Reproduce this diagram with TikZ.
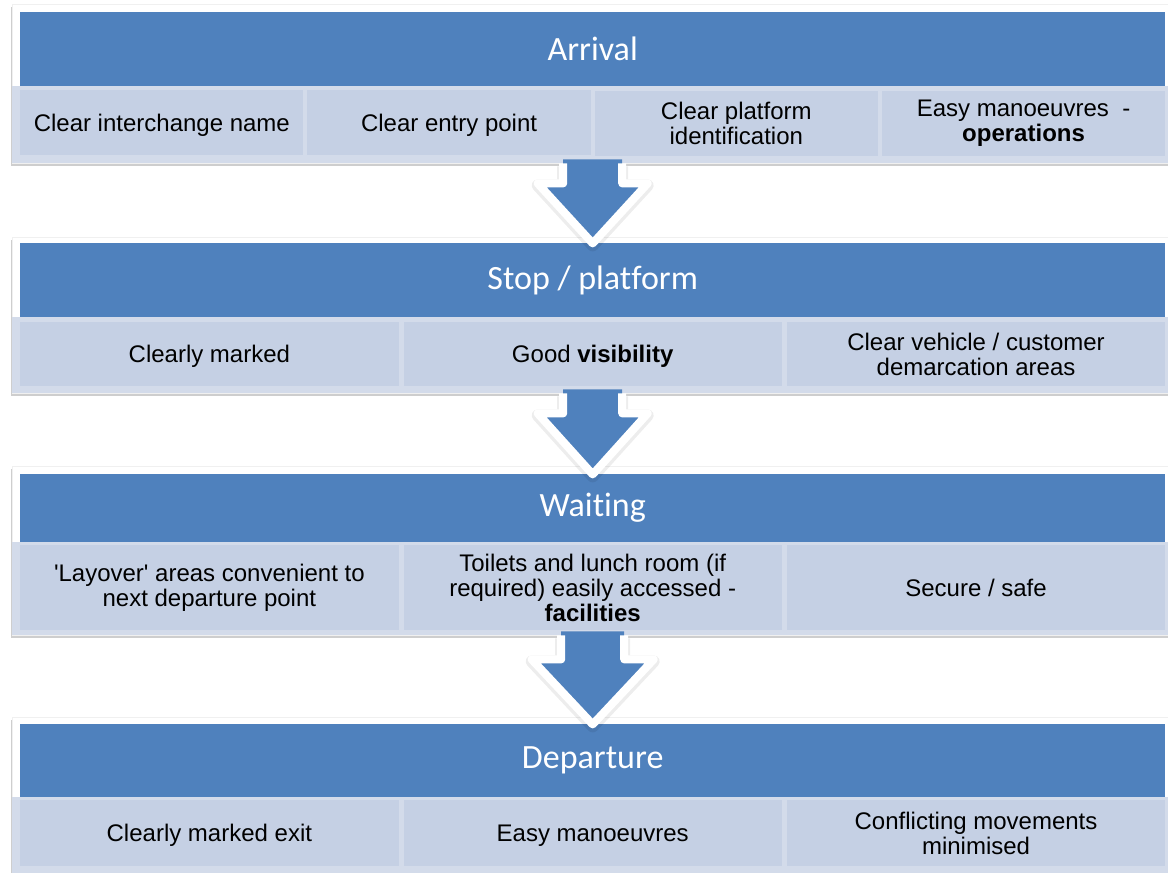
\documentclass[tikz,border=0pt]{standalone}
\usepackage{fontspec}
\setmainfont{Liberation Sans}
\newfontfamily\cellfont{Liberation Sans}
\newfontfamily\headfont{Carlito}[Ligatures=NoCommon]
\usetikzlibrary{shadows}
\definecolor{hblue}{HTML}{4F81BD}
\definecolor{cellc}{HTML}{C5D0E4}
\definecolor{bandc}{HTML}{D3DBEA}
\newcommand{\flowarrow}[5]{%
  % #1 origin (top centre), #2 half shaft, #3 shoulder depth, #4 half head, #5 tip depth
  \begin{scope}[shift={(#1)}]
    \draw[black, opacity=0.07, line width=12pt, line join=round]
      (#2,3) -- (#2,#3+2) -- (#4,#3+2) -- (0,#5+2) -- (-#4,#3+2) -- (-#2,#3+2) -- (-#2,3);
    \fill[hblue] (-#2,-4) -- (#2,-4) -- (#2,#3) -- (#4,#3) -- (0,#5) -- (-#4,#3) -- (-#2,#3) -- cycle;
    \draw[white, line width=8pt, line join=round]
      (#2,0) -- (#2,#3) -- (#4,#3) -- (0,#5) -- (-#4,#3) -- (-#2,#3) -- (-#2,0);
  \end{scope}}
\begin{document}
\begin{tikzpicture}[x=1pt,y=-1pt,
  container/.style={fill=white, draw=black!6, line width=0.6pt, inner sep=0pt, anchor=north west,
    drop shadow={shadow xshift=-1.5pt, shadow yshift=-3pt, opacity=0.35, fill=black!55}},
  band/.style={fill=bandc, draw=none, inner sep=0pt, anchor=north west},
  header/.style={fill=hblue, inner sep=0pt, anchor=north west, text=white,
    font=\headfont\fontsize{34}{40}\selectfont},
  cell/.style={fill=cellc, inner sep=0pt, anchor=north west, align=center, text=black,
    font=\cellfont\fontsize{24}{25}\selectfont},
  oneline/.style={text depth=0pt},
  cfour/.style={cell, minimum width=283.25pt},
  cthree/.style={cell, minimum width=378.33pt},
]
\useasboundingbox (0,0) rectangle (1168,873);
\clip (0,0) rectangle (1168,873);
\fill[white] (0,0) rectangle (1168,873);

% Group 1: Arrival
\node[container, minimum width=1170pt, minimum height=159pt] (g1) at (12,4) {};
\node[band, minimum width=1170pt, minimum height=77pt] (b1) at (12,86) {};
\node[header, minimum width=1145pt, minimum height=74pt] (h1) at (20,12) {Arrival};
\node[cfour, oneline, minimum height=65pt] (a1) at (20,90) {Clear interchange name};
\node[cfour, oneline, minimum height=65pt] (a2) at (307.25,90) {Clear entry point};
\node[cfour, minimum height=65pt] (a3) at (594.5,91) {Clear platform\\identification};
\node[cfour, minimum height=65pt] (a4) at (881.75,91) {Easy manoeuvres\ \ -\\\textbf{operations}};

% Group 2: Stop / platform
\node[container, minimum width=1170pt, minimum height=156pt] (g2) at (12,237) {};
\node[band, minimum width=1170pt, minimum height=76pt] (b2) at (12,317) {};
\node[header, minimum width=1145pt, minimum height=74pt] (h2) at (20,243) {Stop / platform};
\node[cthree, oneline, minimum height=64pt] (s1) at (20,322) {Clearly marked};
\node[cthree, oneline, minimum height=64pt] (s2) at (403.33,322) {Good \textbf{visibility}};
\node[cthree, minimum height=64pt] (s3) at (786.67,322) {Clear vehicle / customer\\demarcation areas};

% Group 3: Waiting
\node[container, minimum width=1170pt, minimum height=169pt] (g3) at (12,466) {};
\node[band, minimum width=1170pt, minimum height=93pt] (b3) at (12,542) {};
\node[header, minimum width=1145pt, minimum height=68pt] (h3) at (20,474) {Waiting};
\node[cthree, minimum height=85pt] (w1) at (20,545) {'Layover' areas convenient to\\next departure point};
\node[cthree, minimum height=85pt] (w2) at (403.33,545) {Toilets and lunch room (if\\required) easily accessed -\\\textbf{facilities}};
\node[cthree, oneline, minimum height=85pt] (w3) at (786.67,545) {Secure / safe};

% Group 4: Departure
\node[container, minimum width=1170pt, minimum height=160pt] (g4) at (12,717) {};
\node[band, minimum width=1170pt, minimum height=80pt] (b4) at (12,797) {};
\node[header, minimum width=1145pt, minimum height=73pt] (h4) at (20,724) {Departure};
\node[cthree, oneline, minimum height=66pt] (d1) at (20,800) {Clearly marked exit};
\node[cthree, oneline, minimum height=66pt] (d2) at (403.33,800) {Easy manoeuvres};
\node[cthree, minimum height=66pt] (d3) at (786.67,800) {Conflicting movements\\minimised};

% Block arrows between stages
\coordinate (o1) at (h1.center |- b1.south);
\coordinate (o2) at (h2.center |- b2.south);
\coordinate (o3) at (h3.center |- b3.south);
\flowarrow{o1}{29.5}{20}{55}{80}
\flowarrow{o2}{29.5}{20}{55}{81}
\flowarrow{o3}{31.5}{24}{61}{89}
\end{tikzpicture}
\end{document}
